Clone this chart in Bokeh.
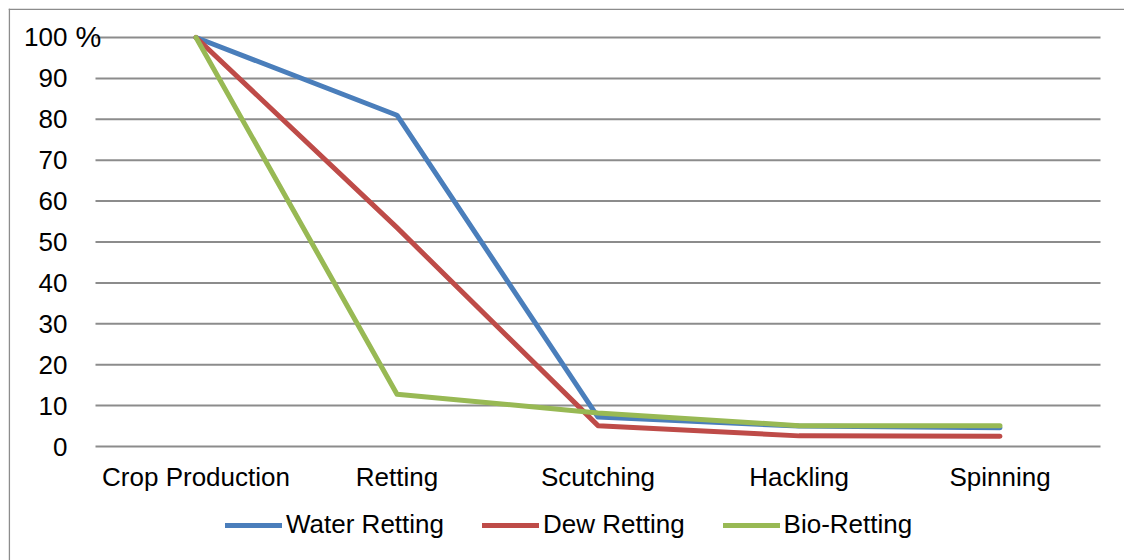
from bokeh.plotting import figure
from bokeh.models import Range1d, FixedTicker, Legend, LegendItem, Label, Span
from bokeh.embed import file_html
from bokeh.resources import INLINE

stages = ["Crop Production", "Retting", "Scutching", "Hackling", "Spinning"]
water_retting = [100, 81, 7.2, 5.0, 4.6]
dew_retting = [100, 53.5, 5.1, 2.6, 2.5]
bio_retting = [100, 12.8, 8.2, 5.1, 5.1]
y_ticks = [0, 10, 20, 30, 40, 50, 60, 70, 80, 90, 100]

FONT = "Liberation Sans"
xpos = list(range(len(stages)))

X0, X1 = -0.9328, 4.6194
Y0, Y1 = -27.87, 107.09

p = figure(width=1124, height=560, output_backend="svg", toolbar_location=None,
           x_range=Range1d(X0, X1), y_range=Range1d(Y0, Y1),
           min_border_left=8, min_border_right=0, min_border_top=8, min_border_bottom=0)
p.outline_line_color = None
p.background_fill_color = "white"
p.border_fill_color = "white"

# chart-area border (left and top edges visible in the window)
p.add_layout(Span(location=X0 + 0.004, dimension="height", line_color="#8c8c8c", line_width=1.5))
p.add_layout(Span(location=Y1 - 0.2, dimension="width", line_color="#8c8c8c", line_width=1.5))

p.xgrid.grid_line_color = None
p.ygrid.grid_line_color = None
p.yaxis.ticker = FixedTicker(ticks=y_ticks)
p.xaxis.ticker = FixedTicker(ticks=xpos)
p.xaxis.major_label_overrides = {i: s for i, s in enumerate(stages)}
p.xaxis.fixed_location = 0
p.yaxis.fixed_location = -0.5

# horizontal gridlines spanning the category band
p.segment(x0=[-0.5] * len(y_ticks), x1=[4.5] * len(y_ticks), y0=y_ticks, y1=y_ticks,
          line_color="#8c8c8c", line_width=2)

for ax in (p.xaxis[0], p.yaxis[0]):
    ax.axis_line_color = None
    ax.major_tick_line_color = None
    ax.minor_tick_line_color = None
    ax.major_label_text_font = FONT
    ax.major_label_text_font_size = "26px"
    ax.major_label_text_color = "black"
p.yaxis.major_label_standoff = 22
p.xaxis.major_label_standoff = 9

series = [("Water Retting", water_retting, "#4a7ebb"),
          ("Dew Retting", dew_retting, "#be4b48"),
          ("Bio-Retting", bio_retting, "#98b954")]
items = []
for name, vals, col in series:
    r = p.line(xpos, vals, line_color=col, line_width=5, line_cap="round", line_join="round")
    items.append(LegendItem(label=name, renderers=[r]))

legend = Legend(items=items, orientation="horizontal", location=(217, 20),
                label_text_font=FONT, label_text_font_size="26px", label_text_color="black",
                glyph_width=57, glyph_height=30, label_standoff=4, spacing=38,
                padding=0, margin=0, border_line_color=None, background_fill_alpha=0)
p.add_layout(legend, "center")

p.add_layout(Label(x=-0.5, y=100, x_offset=-20, text="%", text_font=FONT, text_font_size="29px",
                   text_baseline="middle", text_color="black"))

open("out.html", "w").write(file_html(p, INLINE))
